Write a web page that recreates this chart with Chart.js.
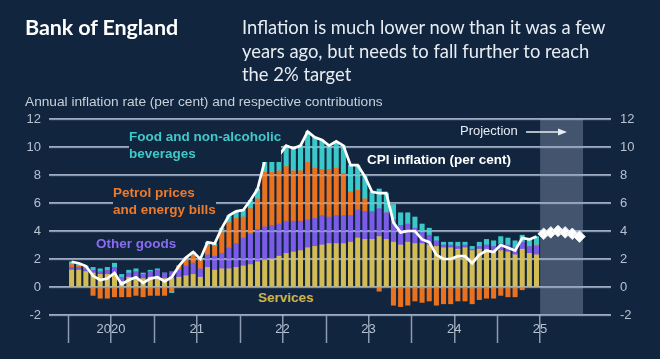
<!DOCTYPE html>
<html><head><meta charset="utf-8">
<script src="https://cdn.jsdelivr.net/npm/chart.js@4.4.1/dist/chart.umd.min.js"></script>
<style>
html,body{margin:0;padding:0;background:#11253f;}
#wrap{position:relative;width:660px;height:359px;overflow:hidden;background:#11253f;font-family:"Liberation Sans",Arial,sans-serif;}
canvas{position:absolute;left:0;top:0;}
.t{position:absolute;white-space:nowrap;}
#boe{left:25px;top:13px;font:700 21.5px Lato,sans-serif;color:#ffffff;letter-spacing:-0.1px;line-height:28px}
#head{left:242px;top:16px;font:400 18.4px Lato,sans-serif;color:#e8edf3;line-height:23.5px}
#sub{left:25px;top:94px;font:13.7px "Liberation Sans",Arial,sans-serif;color:#c8d0da;line-height:16px}
.lab{font-weight:700;font-size:13.5px;background:#11253f;line-height:17px}
#food{left:129px;top:128px;color:#40c9ca}
#petrol{left:113px;top:184px;color:#ee7a2a}
#goods{left:96px;top:235px;color:#8a6cf0}
#serv{left:258px;top:289px;color:#cdb44c}
#cpil{left:367px;top:151px;color:#ffffff}
#proj{left:460px;top:123px;font-size:13px;color:#e8edf3;line-height:16px}
#arrow{position:absolute;left:526px;top:126px}
</style></head>
<body>
<div id="wrap">
<canvas id="c" width="660" height="359"></canvas>
<div class="t" id="boe">Bank of England</div>
<div class="t" id="head">Inflation is much lower now than it was a few<br>years ago, but needs to fall further to reach<br>the 2% target</div>
<div class="t" id="sub">Annual inflation rate (per cent) and respective contributions</div>
<div class="t lab" id="food">Food and non-alcoholic<br>beverages</div>
<div class="t lab" id="petrol">Petrol prices<br>and energy bills</div>
<div class="t lab" id="goods">Other goods</div>
<div class="t lab" id="serv">Services</div>
<div class="t lab" id="cpil">CPI inflation (per cent)</div>
<div class="t" id="proj">Projection</div>
<svg id="arrow" width="44" height="12"><line x1="0" y1="6" x2="34" y2="6" stroke="#e8edf3" stroke-width="1.5"/><polygon points="32,2.5 41,6 32,9.5" fill="#e8edf3"/></svg>
</div>
<script>
// Monthly data, Jan 2020 - Jun 2025 (per cent / percentage points)
const cpi = [1.8,1.7,1.5,0.8,0.5,0.6,1.0,0.2,0.5,0.7,0.3,0.6,
  0.7,0.4,0.7,1.5,2.1,2.5,2.0,3.2,3.1,4.2,5.1,5.4,
  5.5,6.2,7.0,9.0,9.1,9.4,10.1,9.9,10.1,11.1,10.7,10.5,
  10.1,10.4,10.1,8.7,8.7,7.9,6.8,6.7,6.7,4.6,3.9,4.0,
  4.0,3.4,3.2,2.3,2.0,2.0,2.2,2.2,1.7,2.3,2.6,2.5,
  3.0,2.8,2.6,3.5,3.4,3.6];
const services = [1.2,1.2,1.1,1.0,0.9,0.9,0.9,0.4,0.7,0.7,0.6,0.7,
  0.7,0.6,0.6,0.7,0.8,0.9,0.7,1.4,1.2,1.3,1.3,1.4,
  1.5,1.6,1.8,1.9,2.0,2.2,2.4,2.5,2.6,2.8,2.9,3.0,
  3.1,3.1,3.1,3.2,3.5,3.4,3.4,3.6,3.4,3.2,3.0,3.2,
  3.1,3.1,3.0,2.9,2.8,2.8,2.7,2.8,2.6,2.7,2.7,2.5,
  2.6,2.5,2.3,2.7,2.4,2.3];
const otherGoods = [0.2,0.2,0.2,0.2,0.2,0.3,0.5,0.3,0.3,0.4,0.3,0.4,
  0.5,0.4,0.5,0.5,0.7,0.8,0.6,0.9,1.0,1.1,1.5,1.7,
  2.0,2.2,2.3,2.4,2.4,2.3,2.3,2.2,2.1,2.0,2.0,2.1,
  1.9,2.0,2.0,1.9,2.0,2.0,2.0,2.0,1.9,1.6,1.4,1.3,
  1.1,0.8,0.7,0.4,0.2,0.2,0.2,0.2,0.1,0.2,0.3,0.4,
  0.5,0.5,0.5,0.5,0.5,0.6];
const energy = [0.2,0.1,0.0,-0.6,-0.8,-0.8,-0.7,-0.7,-0.7,-0.6,-0.7,-0.6,
  -0.6,-0.6,-0.3,0.3,0.5,0.6,0.6,0.7,0.7,1.5,1.8,1.8,
  1.5,1.8,2.2,3.9,3.8,3.8,3.9,3.6,3.6,4.1,3.6,3.3,
  3.4,3.4,3.0,1.7,1.4,0.9,0.0,-0.3,0.0,-1.3,-1.4,-1.3,
  -1.0,-1.1,-1.0,-1.3,-1.2,-1.2,-1.0,-1.0,-1.2,-0.9,-0.8,-0.8,
  -0.6,-0.7,-0.7,-0.2,0.0,0.1];
const food = [0.2,0.2,0.2,0.2,0.2,0.2,0.3,0.2,0.2,0.2,0.1,0.1,
  0.1,0.0,-0.1,0.0,0.1,0.2,0.1,0.2,0.2,0.3,0.5,0.5,
  0.5,0.6,0.7,0.8,0.9,1.1,1.5,1.6,1.8,2.2,2.2,2.1,
  1.7,1.9,2.0,1.9,1.8,1.6,1.4,1.4,1.4,1.1,0.9,0.8,
  0.8,0.6,0.5,0.3,0.2,0.2,0.3,0.2,0.2,0.3,0.4,0.4,
  0.5,0.5,0.5,0.5,0.5,0.6];
// Projection, Jul - Dec 2025
const projection = [3.8,3.9,4.0,3.9,3.8,3.6];
const projectionStart = 66; // month index of Jul 2025
// x-axis: year boundaries (month index) and labels
const yearStarts = [-0.5,11.5,23.5,35.5,47.5,59.5];
const yearLabels = ['2020','21','22','23','24','25'];
const yTicks = [-2,0,2,4,6,8,10,12];

const toXY = (arr, start=0) => arr.map((v,i)=>({x:start+i, y:v}));

const shadePlugin = {
  id:'shade',
  beforeDatasetsDraw(chart){
    const {ctx, chartArea:a, scales:{x}} = chart;
    const x0 = x.getPixelForValue(projectionStart-0.5);
    const x1 = x.getPixelForValue(projectionStart+projection.length-0.5);
    ctx.save();
    ctx.fillStyle = 'rgba(140,156,182,0.40)';
    ctx.fillRect(x0, a.top, x1-x0, a.bottom-a.top);
    ctx.restore();
  },
  beforeDatasetDraw(chart, args){
    if (args.index !== 4) return;
    const {ctx, chartArea:a, scales:{y}} = chart;
    ctx.save();
    ctx.strokeStyle = 'rgba(190,202,220,0.45)';
    ctx.lineWidth = 1.3;
    yTicks.forEach(v=>{
      const py = Math.round(y.getPixelForValue(v))+0.5;
      ctx.beginPath(); ctx.moveTo(a.left, py); ctx.lineTo(a.right, py); ctx.stroke();
    });
    ctx.restore();
  },
  afterDraw(chart){
    const {ctx, chartArea:a, scales:{x}} = chart;
    ctx.save();
    ctx.strokeStyle = '#8d9bb0';
    ctx.lineWidth = 1.5;
    yearStarts.forEach(v=>{
      const px = Math.round(x.getPixelForValue(v))+0.5;
      ctx.beginPath(); ctx.moveTo(px, a.bottom); ctx.lineTo(px, a.bottom+28); ctx.stroke();
    });
    ctx.restore();
  }
};

const tickFont = {family:'"Liberation Sans", Arial, sans-serif', size:13};
const tickColor = '#b7c2d1';
const barCommon = {type:'bar', order:3, barThickness:4.4, borderWidth:0, yAxisID:'y', xAxisID:'x'};

new Chart(document.getElementById('c'), {
  data:{datasets:[
    {...barCommon, label:'Services', data:toXY(services), backgroundColor:'#d4bc55'},
    {...barCommon, label:'Other goods', data:toXY(otherGoods), backgroundColor:'#7b5ce8'},
    {...barCommon, label:'Petrol prices and energy bills', data:toXY(energy), backgroundColor:'#ea711d'},
    {...barCommon, label:'Food and non-alcoholic beverages', data:toXY(food), backgroundColor:'#3bc8c9'},
    {type:'line', label:'CPI inflation', data:toXY(cpi), borderColor:'#ffffff', borderWidth:2.7, pointRadius:0, tension:0, order:1, yAxisID:'y2', xAxisID:'x'},
    {type:'line', label:'Projection', data:toXY(projection, projectionStart), showLine:false, pointStyle:'rectRot', pointRadius:5.8, pointBackgroundColor:'#ffffff', pointBorderColor:'#e3e8ef', pointBorderWidth:1, order:0, yAxisID:'y2', xAxisID:'x'}
  ]},
  options:{
    responsive:false, animation:false, devicePixelRatio:1,
    layout:{padding:{top:119,left:0,right:0,bottom:0}},
    plugins:{legend:{display:false}, tooltip:{enabled:false}},
    scales:{
      x:{type:'linear', min:-3.156, max:75.41, stacked:true, offset:false,
        border:{display:false},
        grid:{drawOnChartArea:false, drawTicks:true, tickLength:28, color:'#8d9bb0', lineWidth:1.5},
        ticks:{color:tickColor, font:tickFont, padding:-21, labelOffset:42.9, autoSkip:false, maxRotation:0,
          callback:(v,i)=>yearLabels[i]},
        afterBuildTicks:s=>{s.ticks = yearStarts.map(v=>({value:v}));},
        afterFit:s=>{s.height=44;}
      },
      y:{type:'linear', position:'left', min:-2, max:12, stacked:true,
        border:{display:false},
        grid:{color:'#9aa9bd', lineWidth:1.5, drawTicks:false},
        ticks:{stepSize:2, color:tickColor, font:tickFont, padding:8},
        afterFit:s=>{s.width=49;}
      },
      y2:{type:'linear', position:'right', min:-2, max:12,
        border:{display:false},
        grid:{display:false, drawTicks:false},
        ticks:{stepSize:2, color:tickColor, font:tickFont, padding:9},
        afterFit:s=>{s.width=49;}
      }
    }
  },
  plugins:[shadePlugin]
});
</script>
</body></html>
